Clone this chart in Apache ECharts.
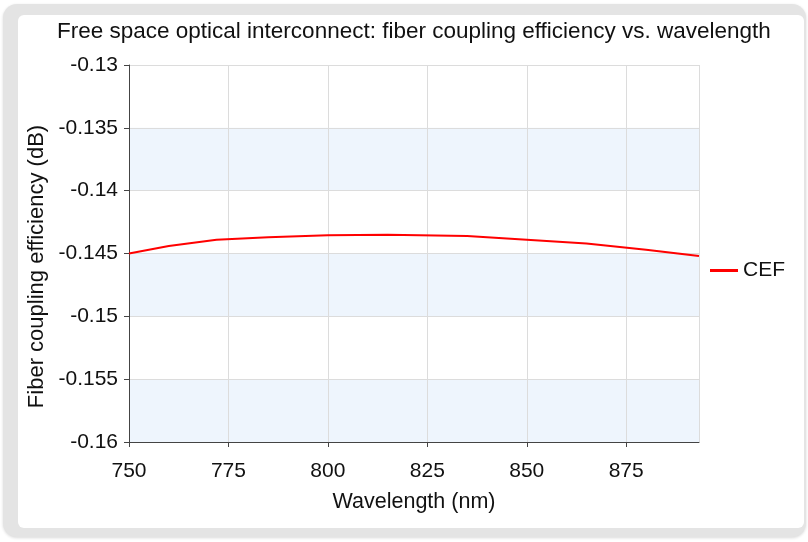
<!DOCTYPE html>
<html>
<head>
<meta charset="utf-8">
<script src="https://cdn.jsdelivr.net/npm/echarts@6/dist/echarts.min.js"></script>
<style>
html,body{margin:0;padding:0;background:#fff;}
#outer{position:absolute;left:3px;top:4px;width:803px;height:533px;background:#e4e4e4;border-radius:14px;box-shadow:0 1px 3px rgba(0,0,0,0.15);}
#panel{position:absolute;left:18px;top:15px;width:786px;height:513px;background:#fff;border-radius:6px;}
#chart{position:absolute;left:0;top:0;width:808px;height:542px;}
</style>
</head>
<body>
<div id="outer"></div>
<div id="panel"></div>
<div id="chart"></div>
<script>
const titleText = 'Free space optical interconnect: fiber coupling efficiency vs. wavelength';
const xName = 'Wavelength (nm)';
const yName = 'Fiber coupling efficiency (dB)';
const seriesName = 'CEF';
const wavelengths = [750, 760, 772, 785, 800, 815, 835, 850, 865, 880, 893.3];
const cefValues = [-0.1450, -0.1444, -0.1439, -0.1437, -0.14355, -0.1435, -0.1436, -0.1439, -0.1442, -0.1447, -0.1452];

const chart = echarts.init(document.getElementById('chart'), null, {renderer:'canvas'});
const font = 'Liberation Sans, Arial, Helvetica, sans-serif';
chart.setOption({
  backgroundColor: 'transparent',
  animation: false,
  textStyle: {fontFamily: font},
  title: {
    text: titleText, left: 52, top: 15,
    textStyle: {fontSize: 22.5, fontWeight: 'normal', color: '#111', fontFamily: font}
  },
  legend: {
    orient: 'vertical', right: 18, top: 255,
    itemWidth: 28, itemHeight: 3, itemGap: 6,
    icon: 'rect',
    textStyle: {fontSize: 21, color: '#111', fontFamily: font},
    data: [seriesName]
  },
  grid: {left: 129, right: 109, top: 65, bottom: 100, containLabel: false},
  xAxis: {
    type: 'value', min: 750, max: 'dataMax', interval: 25,
    name: xName, nameLocation: 'middle', nameGap: 49,
    nameTextStyle: {fontSize: 21.5, color: '#111', fontFamily: font},
    axisLine: {show: true, lineStyle: {color: '#444', width: 1}},
    axisTick: {show: true, length: 5, lineStyle: {color: '#444'}},
    axisLabel: {fontSize: 21, color: '#111', margin: 19, showMaxLabel: false, fontFamily: font},
    splitLine: {show: true, lineStyle: {color: '#dcdcdc'}}
  },
  yAxis: {
    type: 'value', min: -0.16, max: -0.13, interval: 0.005,
    name: yName, nameLocation: 'middle', nameGap: 78, nameRotate: 90,
    nameTextStyle: {fontSize: 22, color: '#111', fontFamily: font, padding: [0, 26, 0, 0]},
    axisLine: {show: true, lineStyle: {color: '#444', width: 1}},
    axisTick: {show: true, length: 5, lineStyle: {color: '#444'}},
    axisLabel: {fontSize: 21, color: '#111', margin: 11, fontFamily: font},
    splitLine: {show: true, lineStyle: {color: '#dcdcdc'}},
    splitArea: {show: true, areaStyle: {color: ['#eef5fd', 'rgba(255,255,255,0)']}}
  },
  series: [{
    name: seriesName, type: 'line',
    data: wavelengths.map((x, i) => [x, cefValues[i]]),
    showSymbol: false, symbol: 'none',
    lineStyle: {color: '#ff0000', width: 2},
    itemStyle: {color: '#ff0000'}
  }]
});
</script>
</body>
</html>
